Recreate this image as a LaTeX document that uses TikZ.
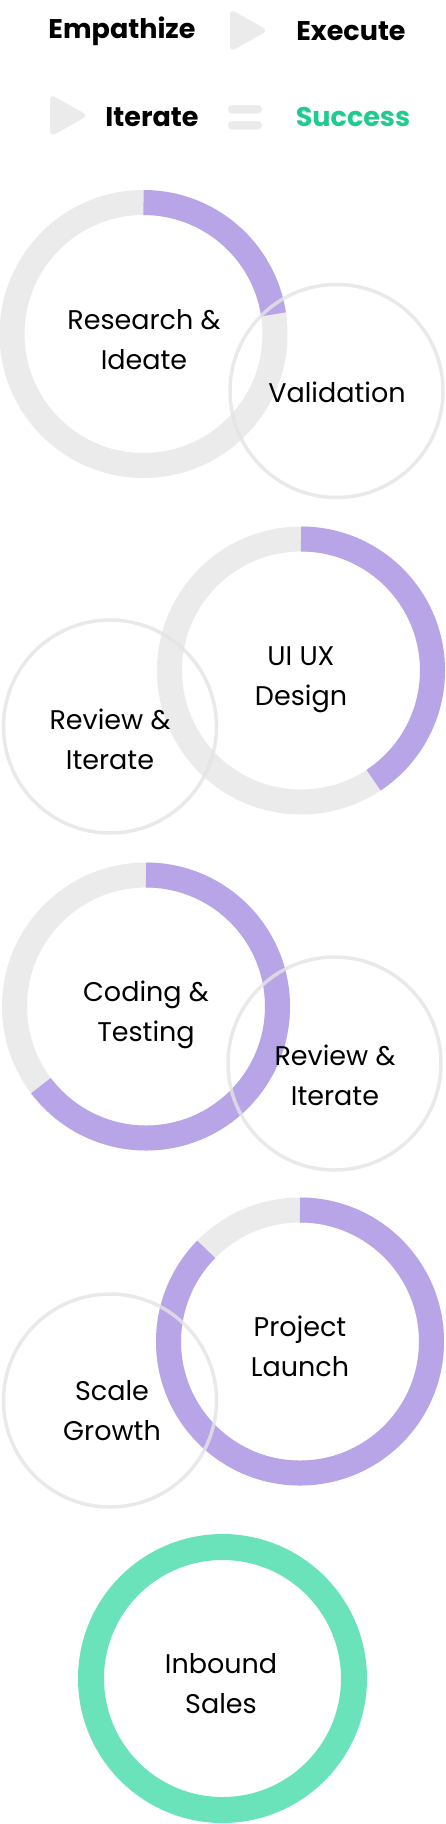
\documentclass[tikz,border=0pt]{standalone}
\usepackage{fontspec}
\setmainfont{Poppins}
\definecolor{ringgray}{HTML}{EBEBEB}
\definecolor{ringpurple}{HTML}{B8A5E8}
\definecolor{ringgreen}{HTML}{6AE3BA}
\definecolor{succ}{HTML}{1FCB8D}
\definecolor{thin}{HTML}{E4E4E4}
\begin{document}
\begin{tikzpicture}[x=1pt,y=1pt,
  ring/.style={line width=25pt},
  grayring/.style={ring, draw=ringgray},
  purplering/.style={ring, draw=ringpurple},
  greenring/.style={line width=26pt, draw=ringgreen},
  thincircle/.style={draw=thin, line width=3.5pt, opacity=0.8},
  hdr/.style={font=\fontsize{27}{32}\selectfont\bfseries, inner sep=0pt},
  lbl/.style={font=\fontsize{27}{40}\selectfont, align=center, inner sep=0pt},
  iconshape/.style={fill=ringgray}]
\useasboundingbox (0,0) rectangle (446,-1824);
% header
\node[hdr] (emp) at (122,-31) {Empathize};
\node[hdr] (exe) at (351,-31) {Execute};
\node[hdr] (ite) at (152,-117) {Iterate};
\node[hdr, text=succ] (suc) at (353,-117) {Success};
\fill[iconshape, rounded corners=6pt] (230,-9) -- (268,-30.5) -- (230,-52) -- cycle;
\fill[iconshape, rounded corners=6pt] (50,-94) -- (88,-115.5) -- (50,-137) -- cycle;
\fill[iconshape, rounded corners=4pt] (228,-105) rectangle (262,-113.5);
\fill[iconshape, rounded corners=4pt] (228,-121) rectangle (262,-129.5);
% circle 1
\draw[grayring] (143.5,-334) circle[radius=131.5];
\draw[purplering] (143.5,-334) ++(90:131.5) arc[start angle=90, end angle=8.6, radius=131.5];
\draw[thincircle] (336.5,-391) circle[radius=106.5];
\node[lbl] (research) at (144,-340) {Research \&\\Ideate};
\node[lbl] (valid) at (337,-392) {Validation};
% circle 2
\draw[grayring] (301,-670.5) circle[radius=131.5];
\draw[purplering] (301,-670.5) ++(90:131.5) arc[start angle=90, end angle=-56.5, radius=131.5];
\draw[thincircle] (110,-726.5) circle[radius=106.5];
\node[lbl] (uiux) at (301,-679.5) {UI UX\\Design};
\node[lbl] (rev1) at (110,-739.5) {Review \&\\Iterate};
% circle 3
\draw[grayring] (146,-1006.5) circle[radius=131.5];
\draw[purplering] (146,-1006.5) ++(90:131.5) arc[start angle=90, end angle=-143, radius=131.5];
\draw[thincircle] (334.5,-1063.5) circle[radius=106.5];
\node[lbl] (coding) at (146,-1014.5) {Coding \&\\Testing};
\node[lbl] (rev2) at (335,-1075) {Review \&\\Iterate};
% circle 4
\draw[grayring] (300,-1341.5) circle[radius=131.5];
\draw[purplering] (300,-1341.5) ++(90:131.5) arc[start angle=90, end angle=-224.5, radius=131.5];
\draw[thincircle] (110,-1400.5) circle[radius=106.5];
\node[lbl] (launch) at (300,-1346.5) {Project\\Launch};
\node[lbl] (scale) at (112,-1411) {Scale\\Growth};
% circle 5
\draw[greenring] (222.5,-1678.5) circle[radius=131.5];
\node[lbl] (inbound) at (221,-1684) {Inbound\\Sales};
\end{tikzpicture}
\end{document}
